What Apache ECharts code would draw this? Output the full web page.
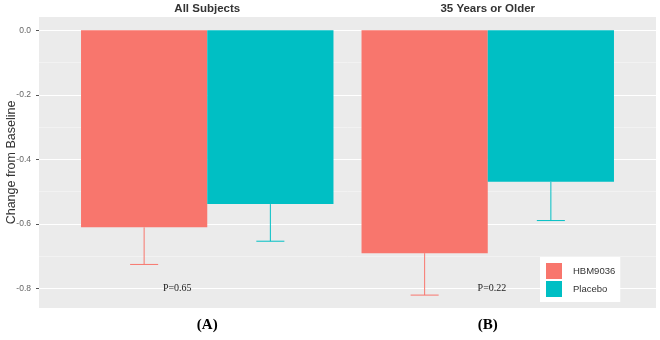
<!DOCTYPE html>
<html>
<head>
<meta charset="utf-8">
<script src="https://cdn.jsdelivr.net/npm/echarts@6/dist/echarts.min.js"></script>
<style>
  html, body { margin: 0; padding: 0; background: #fff; }
  #main { width: 660px; height: 340px; }
</style>
</head>
<body>
<div id="main"></div>
<script>
var categories = ['All Subjects', '35 Years or Older'];
var panelLabels = ['(A)', '(B)'];
var seriesNames = ['HBM9036', 'Placebo'];
var hbmMean = [-0.611, -0.691];
var hbmLower = [-0.726, -0.821];
var placeboMean = [-0.539, -0.470];
var placeboLower = [-0.654, -0.590];
var pValues = ['P=0.65', 'P=0.22'];
var pValueY = [-0.8, -0.8];
var majorTicks = [-0.8, -0.6, -0.4, -0.2, 0.0];
var minorTicks = [-0.7, -0.5, -0.3, -0.1];

var yMin = -0.861, yMax = 0.041;
var colors = ['#F8766D', '#00BFC4'];

var chart = echarts.init(document.getElementById('main'));

// error bar, only the lower half like the reference
function errRender(side, color) {
  return function (params, api) {
    var i = api.value(0);
    var band = api.size([1, 0])[0];
    var top = api.coord([i, api.value(1)]);
    var bot = api.coord([i, api.value(2)]);
    var x = top[0] + side * band * 0.225;
    var half = band * 0.05;
    return {
      type: 'group',
      children: [
        { type: 'line', shape: { x1: x, y1: top[1], x2: x, y2: bot[1] }, style: { stroke: color, lineWidth: 1 } },
        { type: 'line', shape: { x1: x - half, y1: bot[1], x2: x + half, y2: bot[1] }, style: { stroke: color, lineWidth: 1 } }
      ]
    };
  };
}

var pShift = [-0.107, 0.015];

var option = {
  animation: false,
  backgroundColor: '#fff',
  grid: [
    { left: 39, right: 4, top: 17, bottom: 32, show: true, backgroundColor: '#EBEBEB', borderWidth: 0, outerBoundsMode: 'none' },
    { left: 67, right: 32, top: 17, bottom: 32, outerBoundsMode: 'none' }
  ],
  legend: {
    data: seriesNames,
    orient: 'vertical',
    left: 540,
    top: 257,
    itemWidth: 16,
    itemHeight: 16,
    itemGap: 2,
    icon: 'rect',
    backgroundColor: '#fff',
    padding: [6, 5, 5, 6],
    z: 10,
    textStyle: { fontFamily: 'Liberation Sans', fontSize: 9.5, color: '#333', padding: [0, 0, 0, 6] }
  },
  xAxis: [
    { type: 'value', gridIndex: 0, min: 0, max: 1, show: false },
    {
      type: 'category', gridIndex: 1, data: categories, position: 'top',
      axisLine: { show: false }, axisTick: { show: false },
      axisLabel: { margin: 2, fontFamily: 'Liberation Sans', fontWeight: 'bold', fontSize: 11.5, color: '#333' }
    },
    {
      type: 'category', gridIndex: 1, data: panelLabels, position: 'bottom',
      axisLine: { show: false }, axisTick: { show: false },
      axisLabel: { margin: 10, fontFamily: 'Liberation Serif', fontWeight: 'bold', fontSize: 15, color: '#000' }
    }
  ],
  yAxis: [
    {
      type: 'value', gridIndex: 0, min: yMin, max: yMax,
      name: 'Change from Baseline', nameLocation: 'middle', nameGap: 21, nameMoveOverlap: false,
      nameTextStyle: { fontFamily: 'Liberation Sans', fontSize: 12.5, color: '#333' },
      axisLine: { show: false },
      axisTick: { show: true, length: 3, lineStyle: { color: '#555' }, customValues: majorTicks },
      axisLabel: {
        margin: 8, fontFamily: 'Liberation Sans', fontSize: 8.5, color: '#666',
        customValues: majorTicks,
        formatter: function (v) { return v.toFixed(1); }
      },
      splitLine: { show: false }
    },
    { type: 'value', gridIndex: 1, min: yMin, max: yMax, show: false }
  ],
  series: [
    {
      type: 'line', xAxisIndex: 0, yAxisIndex: 0, data: [], silent: true, z: 0,
      markLine: {
        silent: true, symbol: 'none', label: { show: false }, z: 0,
        lineStyle: { color: '#fff', type: 'solid', width: 1.1 },
        data: majorTicks.map(function (v) { return { yAxis: v }; })
          .concat(minorTicks.map(function (v) { return { yAxis: v, lineStyle: { width: 0.6, color: '#f7f7f7' } }; }))
      }
    },
    {
      name: seriesNames[0], type: 'bar', xAxisIndex: 1, yAxisIndex: 1, z: 2,
      data: hbmMean, itemStyle: { color: colors[0] },
      barGap: '0%', barCategoryGap: '10%'
    },
    {
      name: seriesNames[1], type: 'bar', xAxisIndex: 1, yAxisIndex: 1, z: 2,
      data: placeboMean, itemStyle: { color: colors[1] },
      barGap: '0%', barCategoryGap: '10%'
    },
    {
      type: 'custom', xAxisIndex: 1, yAxisIndex: 1, silent: true, z: 3,
      data: hbmMean.map(function (v, i) { return [i, v, hbmLower[i]]; }),
      renderItem: errRender(-1, colors[0])
    },
    {
      type: 'custom', xAxisIndex: 1, yAxisIndex: 1, silent: true, z: 3,
      data: placeboMean.map(function (v, i) { return [i, v, placeboLower[i]]; }),
      renderItem: errRender(1, colors[1])
    },
    {
      type: 'custom', xAxisIndex: 1, yAxisIndex: 1, silent: true, z: 4,
      data: pValues.map(function (t, i) { return [i, pValueY[i]]; }),
      renderItem: function (params, api) {
        var i = api.value(0);
        var band = api.size([1, 0])[0];
        var c = api.coord([i, api.value(1)]);
        return {
          type: 'text',
          x: c[0] + pShift[i] * band,
          y: c[1],
          style: {
            text: pValues[i], fill: '#222',
            font: '10px "Liberation Serif"',
            align: 'center', verticalAlign: 'middle'
          }
        };
      }
    }
  ]
};

chart.setOption(option);
</script>
</body>
</html>
